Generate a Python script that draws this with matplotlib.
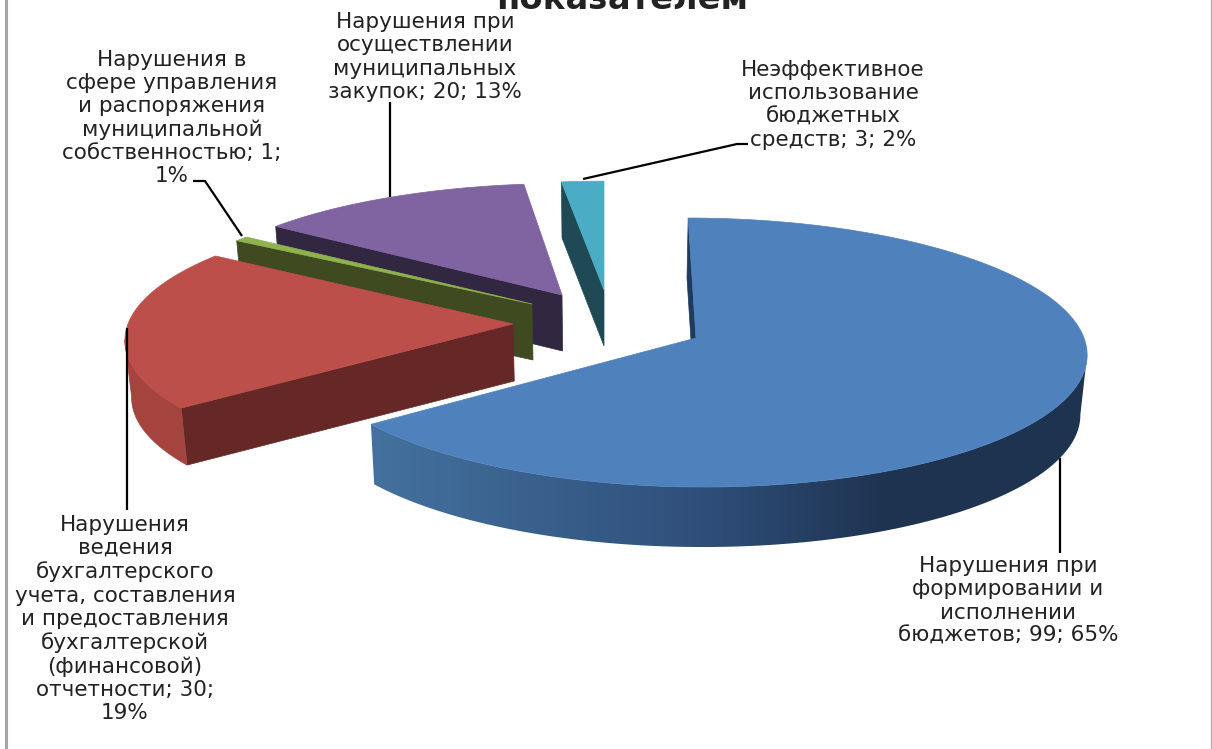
# Exploded 3D pie of violations, drawn by hand since matplotlib has no perspective pie

import numpy as np
import matplotlib
matplotlib.use("Agg")
import matplotlib.pyplot as plt
from matplotlib.colors import LinearSegmentedColormap
from matplotlib.patches import Polygon

title = "показателем"
values = [99, 30, 1, 20, 3]
labels = [
    "Нарушения при\nформировании и\nисполнении\nбюджетов; 99; 65%",
    "Нарушения\nведения\nбухгалтерского\nучета, составления\nи предоставления\nбухгалтерской\n(финансовой)\nотчетности; 30;\n19%",
    "Нарушения в\nсфере управления\nи распоряжения\nмуниципальной\nсобственностью; 1;\n1%",
    "Нарушения при\nосуществлении\nмуниципальных\nзакупок; 20; 13%",
    "Неэффективное\nиспользование\nбюджетных\nсредств; 3; 2%",
]

# layout, one entry per slice
apex_x = [696, 513, 532, 562, 604]
apex_y = [338, 324, 304, 295, 290]
radius_x = [388, 385, 381, 380, 388]
radius_y = [134.5, 131, 122, 125, 122]
depth = [60, 57, 56, 56, 56]
label_x = [1008, 125, 172, 425, 833]
label_y = [601, 619, 118, 57, 105]
leaders = [
    [(1060, 458), (1060, 553)],
    [(127, 328), (127, 510)],
    [(193, 181), (205, 181), (242, 236)],
    [(390, 102), (390, 197)],
    [(748, 144), (737, 144), (583, 179)],
]

top_colors = ["#4f81bd", "#bd4f4b", "#8fb24f", "#8064a2", "#4bacc6"]
cut_colors = ["#1f3a5c", "#662826", "#3f4a20", "#322741", "#1f4a55"]
red_wall = "#a5443f"
blue_wall = LinearSegmentedColormap.from_list(
    "blue_wall", [(0, "#44719f"), (0.46, "#2f4f7a"), (0.72, "#1e3350"), (1, "#1f3450")])

persp = 0.108
vanish_x = 604


def rim(i, theta):
    # point on the top face of slice i, theta in degrees clockwise from 12 o'clock
    t = np.radians(theta)
    s = 1 - persp * np.cos(t)
    skew = (vanish_x - apex_x[i]) * 0.085
    x = apex_x[i] + radius_x[i] * s * np.sin(t) + skew * np.cos(t)
    y = apex_y[i] - radius_y[i] * s * np.cos(t)
    return x, y


def drop(i, x, y):
    # same point on the bottom face
    return x + (vanish_x - x) * 0.014, y + depth[i]


fig = plt.figure(figsize=(12.12, 7.49), dpi=100)
ax = fig.add_axes([0, 0, 1, 1])

angles = np.cumsum([0] + values) / sum(values) * 360

# back slices first so the nearer ones cover them
for i in [4, 3, 2, 1, 0]:
    a0, a1 = angles[i], angles[i + 1]
    px, py = apex_x[i], apex_y[i]

    # cut face at the start of the slice
    ox, oy = rim(i, a0)
    cut = [(ox, oy), drop(i, ox, oy), drop(i, px, py), (px, py)]
    ax.add_patch(Polygon(cut, facecolor=cut_colors[i], edgecolor=cut_colors[i], lw=0.5))

    # outer wall, only the blue and red slices show it, and only up to the silhouette
    if i == 0:
        arc = [rim(i, t) for t in np.linspace(97, a1, 200)]
        wall = arc + [drop(i, x, y) for x, y in arc[::-1]]
        patch = Polygon(wall, facecolor="none", edgecolor="none")
        ax.add_patch(patch)
        grad = ax.imshow(np.linspace(0, 1, 256).reshape(1, -1), cmap=blue_wall, aspect="auto",
                         extent=(371, 1090, 560, 200), interpolation="bilinear")
        grad.set_clip_path(patch)
    elif i == 1:
        arc = [rim(i, t) for t in np.linspace(a0, 263, 100)]
        wall = arc + [drop(i, x, y) for x, y in arc[::-1]]
        ax.add_patch(Polygon(wall, facecolor=red_wall, edgecolor=red_wall, lw=0.5))

    # top face
    pts = [(px, py)] + [rim(i, t) for t in np.linspace(a0, a1, 200)]
    ax.add_patch(Polygon(pts, facecolor=top_colors[i], edgecolor=top_colors[i], lw=0.5))

ax.set_xlim(0, 1212)
ax.set_ylim(749, 0)
ax.axis("off")

for line in leaders:
    ax.plot([p[0] for p in line], [p[1] for p in line], color="black", lw=1.6, solid_capstyle="butt")

for i in range(len(labels)):
    ax.text(label_x[i], label_y[i], labels[i], ha="center", va="center", fontsize=15.5,
            color="#222222", linespacing=1.2, family="DejaVu Sans")

ax.text(622, 9, title, ha="center", va="baseline", fontsize=24.2, fontweight="bold", color="#222222")

# grey frame of the pasted image
ax.plot([6, 6], [0, 749], color="#a6a6a6", lw=2.2)
ax.plot([1211.5, 1211.5], [0, 749], color="#a6a6a6", lw=1.5)

fig.savefig("out.png", dpi=100, facecolor="white")
